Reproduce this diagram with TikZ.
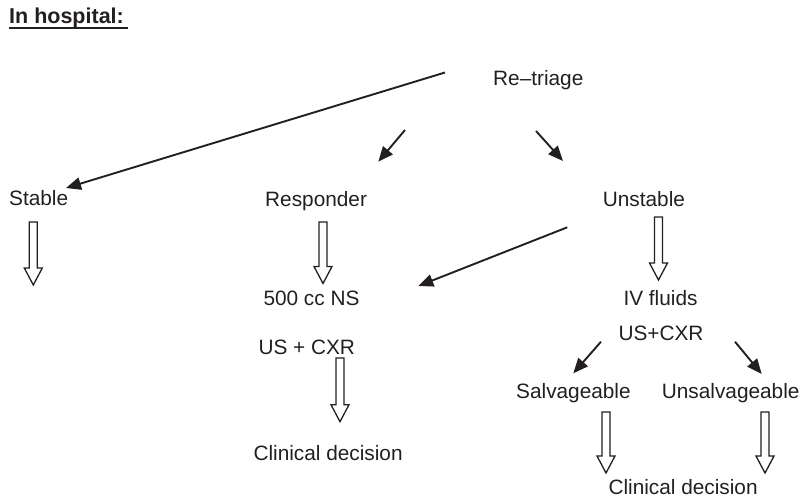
\documentclass[tikz,border=0pt]{standalone}
\usepackage{fontspec}
\setmainfont{Liberation Sans}
\usetikzlibrary{arrows.meta,calc}
\definecolor{ink}{RGB}{35,31,32}
\begin{document}
\begin{tikzpicture}[x=1pt,y=-1pt,
  every node/.style={inner sep=0pt, anchor=base west, text=ink},
  lbl/.style={font=\fontsize{20.8}{24}\selectfont},
  heading/.style={font=\fontsize{21.5}{25}\selectfont\bfseries},
  arr/.style={draw=ink, line width=1.9pt, -{Triangle[length=15pt,width=12.5pt]}},
  hollow/.style={draw=ink, line width=1.3pt, fill=white, line join=miter,
    to path={let \p1=(\tikztostart), \p2=(\tikztotarget) in
      (\x1-4pt,\y1) -- (\x1-4pt,\y2+17pt) -- (\x1-9pt,\y2+17pt) -- (\x1,\y2)
      -- (\x1+9pt,\y2+17pt) -- (\x1+4pt,\y2+17pt) -- (\x1+4pt,\y1) -- cycle}}
]
\useasboundingbox (0,0) rectangle (809,498);

% heading
\node[heading] (title) at (9,23) {In hospital:};
\draw[ink, line width=2.5pt] ([yshift=-4.8pt]title.base west) -- ++(119,0);

% labels
\node[lbl] (retriage) at (493,85) {Re\textendash{}triage};
\node[lbl] (stable) at (9,205) {Stable};
\node[lbl] (responder) at (265,206) {Responder};
\node[lbl] (unstable) at (602.7,206) {Unstable};
\node[lbl] (ns) at (263.3,305) {500 cc NS};
\node[lbl] (uscxrA) at (258.3,354) {US + CXR};
\node[lbl] (clinA) at (253.3,460) {Clinical decision};
\node[lbl] (iv) at (623.3,305) {IV fluids};
\node[lbl] (uscxrB) at (618.3,340.7) {US+CXR};
\node[lbl] (salv) at (516,398.3) {Salvageable};
\node[lbl] (unsalv) at (661.7,398.3) {Unsalvageable};
\node[lbl] (clinB) at (608.3,494) {Clinical decision};

% ends of the thin arrows
\coordinate (rtS) at (445,72.5);   \coordinate (stT) at (66,188);
\coordinate (rtR) at (405,130);    \coordinate (rsT) at (378.3,161.7);
\coordinate (rtU) at (536,131);    \coordinate (unT) at (563,161);
\coordinate (unN) at (567.3,227.3);\coordinate (nsT) at (418.3,286);
\coordinate (usL) at (601,341.7);  \coordinate (svT) at (573.3,373.3);
\coordinate (usR) at (735,341.7);  \coordinate (uvT) at (761.7,374);

\draw[arr] (rtS) -- (stT);
\draw[arr] (rtR) -- (rsT);
\draw[arr] (rtU) -- (unT);
\draw[arr] (unN) -- (nsT);
\draw[arr] (usL) -- (svT);
\draw[arr] (usR) -- (uvT);

% ends of the open block arrows
\coordinate (stA) at (33.3,222);  \coordinate (stB) at (33.3,285);
\coordinate (rsA) at (323,222);   \coordinate (rsB) at (323,283.5);
\coordinate (unA) at (658.5,217); \coordinate (unB) at (658.5,280);
\coordinate (usA) at (340,358);   \coordinate (usB) at (340,421.7);
\coordinate (svA) at (606,412);   \coordinate (svB) at (606,473);
\coordinate (uvA) at (765,412);   \coordinate (uvB) at (765,473);

\path[hollow] (stA) to (stB);
\path[hollow] (rsA) to (rsB);
\path[hollow] (unA) to (unB);
\path[hollow] (usA) to (usB);
\path[hollow] (svA) to (svB);
\path[hollow] (uvA) to (uvB);
\end{tikzpicture}
\end{document}
